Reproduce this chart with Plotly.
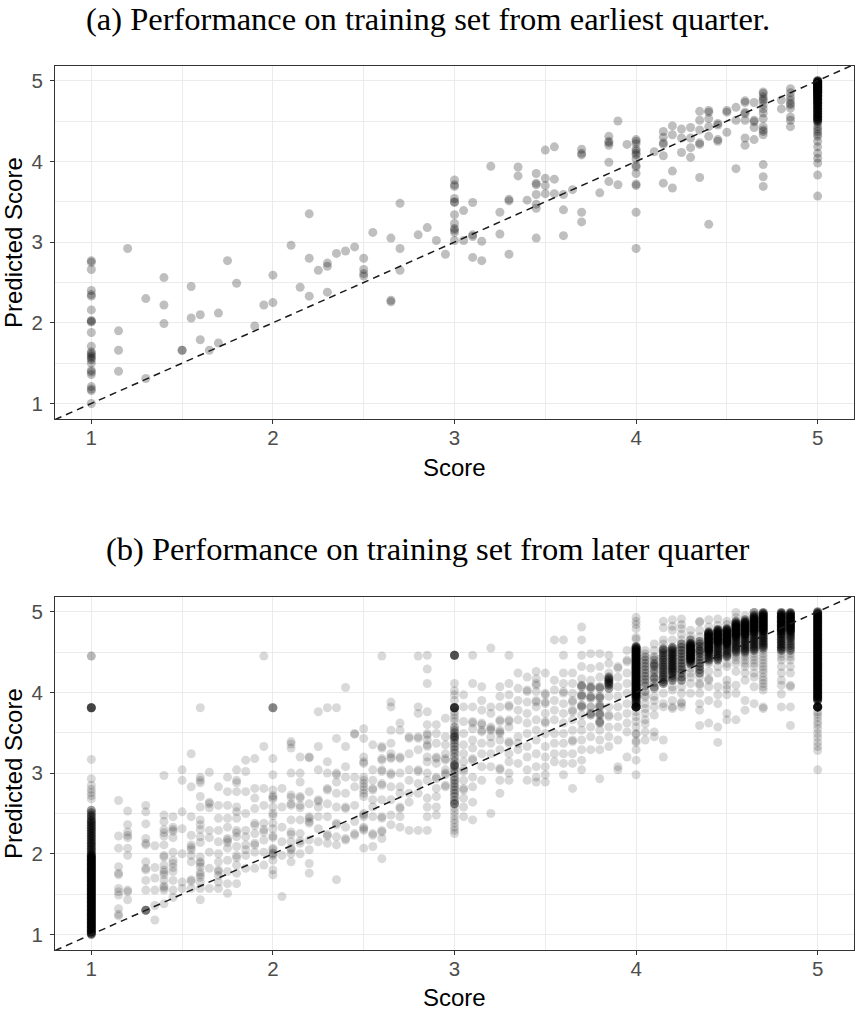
import plotly.graph_objects as go

# ---------------- data ----------------
# Panel (a): earliest quarter -- (score, [predicted scores]) per observed score column
a_cols_low = [
    (1.0, [2.77, 2.75, 2.66, 2.40, 2.35, 2.33, 2.16, 2.03, 2.02, 2.01, 1.88, 1.71, 1.64, 1.62, 1.60,
           1.58, 1.56, 1.54, 1.50, 1.41, 1.39, 1.36, 1.21, 1.18, 1.16, 1.00]),
    (1.15, [1.90, 1.66, 1.40]), (1.2, [2.92]), (1.3, [2.30, 1.31]), (1.4, [2.56, 2.22, 1.99]),
    (1.5, [1.66, 1.66]), (1.55, [2.45, 2.06]), (1.6, [2.10, 1.79]), (1.65, [1.66]),
    (1.7, [2.12, 1.75]), (1.75, [2.77]), (1.8, [2.49]), (1.9, [1.96]), (1.95, [2.22]),
    (2.0, [2.59, 2.25]), (2.1, [2.96]), (2.15, [2.44]), (2.2, [3.35, 2.80, 2.33]), (2.25, [2.65]),
    (2.3, [2.74, 2.70, 2.38]), (2.35, [2.86]), (2.4, [2.89]), (2.45, [2.94]),
    (2.5, [2.80, 2.66, 2.61, 2.58]), (2.55, [3.12]), (2.65, [3.05, 2.28, 2.26]),
    (2.7, [3.48, 2.92, 2.65]), (2.8, [3.09]), (2.85, [3.18]), (2.9, [3.02]), (2.95, [2.85]),
]
a_cols_high = [
    (3.0, [3.77, 3.71, 3.69, 3.54, 3.50, 3.49, 3.34, 3.23, 3.17, 3.15, 3.12, 3.02]),
    (3.05, [3.39, 3.02]), (3.1, [3.49, 3.09, 3.07, 2.81]), (3.15, [3.01, 2.77]), (3.2, [3.94]),
    (3.25, [3.37, 3.10]), (3.3, [3.53, 3.51, 2.85]), (3.35, [3.93, 3.82]), (3.4, [3.52]),
    (3.45, [3.85, 3.73, 3.71, 3.59, 3.47, 3.42, 3.05]), (3.5, [4.14, 3.79, 3.70, 3.60]),
    (3.55, [4.18, 3.78, 3.60]), (3.6, [3.59, 3.40, 3.08]), (3.65, [3.65]),
    (3.7, [4.15, 4.10, 4.08, 3.37, 3.25]), (3.8, [3.61]),
    (3.85, [4.31, 4.25, 4.23, 4.20, 3.99, 3.75]), (3.9, [4.50, 3.71]), (3.95, [4.21]),
    (4.0, [4.27, 4.25, 4.22, 4.15, 4.13, 4.10, 4.08, 4.03, 3.95, 3.93, 3.85, 3.72, 3.70, 3.37, 2.92]),
    (4.1, [4.12]), (4.15, [4.37, 4.30, 4.23, 4.21, 4.07, 3.73]), (4.2, [4.44, 4.33, 3.88, 3.67]),
    (4.25, [4.40, 4.29, 4.11]), (4.3, [4.42, 4.29, 4.17, 4.05]),
    (4.35, [4.62, 4.51, 4.39, 4.23, 4.21, 3.80]), (4.4, [4.63, 4.61, 4.53, 4.43, 4.31, 3.22]),
    (4.45, [4.47, 4.45, 4.27, 4.25]), (4.5, [4.63, 4.61, 4.36]), (4.55, [4.67, 4.51, 3.91]),
    (4.6, [4.75, 4.73, 4.61, 4.59, 4.51, 4.29, 4.20]), (4.65, [4.73, 4.51, 4.49, 4.42, 4.27]),
    (4.7, [4.86, 4.84, 4.80, 4.77, 4.75, 4.70, 4.65, 4.60, 4.53, 4.43, 4.39, 4.37, 4.33, 3.96, 3.81, 3.69]),
    (4.8, [4.76, 4.65]),
    (4.85, [4.90, 4.85, 4.80, 4.76, 4.72, 4.70, 4.66, 4.55, 4.51, 4.43]),
    (5.0, [5.00, 4.99, 4.98, 4.97, 4.96, 4.95, 4.94, 4.93, 4.92, 4.91, 4.90, 4.89, 4.88, 4.87, 4.86,
           4.85, 4.84, 4.82, 4.81, 4.80, 4.78, 4.77, 4.75, 4.73, 4.72, 4.70, 4.68, 4.66, 4.64, 4.62,
           4.60, 4.58, 4.56, 4.54, 4.52, 4.50, 4.47, 4.43, 4.40, 4.37, 4.34, 4.31, 4.25, 4.18, 4.10,
           4.04, 3.98, 3.83, 3.57]),
]
# heavily over-plotted bands in (a): score, lowest / highest prediction, observations per listed value
a_band_x = [5.0]
a_band_lo = [4.50]
a_band_hi = [5.00]
a_band_mult = [3]

# Panel (b): later quarter
b_cols_low = [
    (1.0, [3.17, 2.93, 2.85, 2.80, 2.76, 2.72, 2.68, 2.54, 2.51, 2.48, 2.46, 2.43, 2.41, 2.39, 2.37,
           2.35, 2.33, 2.31, 2.29, 2.27, 2.25, 2.23, 2.21, 2.19, 2.17, 2.15, 2.13, 2.11, 2.09, 2.07,
           2.05, 2.03, 2.01, 1.99, 1.98, 1.97, 1.96, 1.95, 1.94, 1.93, 1.92, 1.91, 1.90, 1.89, 1.88,
           1.87, 1.86, 1.85, 1.84, 1.83, 1.82, 1.81, 1.80, 1.79, 1.78, 1.77, 1.76, 1.75, 1.74, 1.73,
           1.72, 1.71, 1.70, 1.69, 1.68, 1.67, 1.66, 1.65, 1.64, 1.63, 1.62, 1.61, 1.60, 1.59, 1.58,
           1.57, 1.56, 1.55, 1.54, 1.53, 1.52, 1.51, 1.50, 1.49, 1.48, 1.47, 1.46, 1.45, 1.44, 1.43,
           1.42, 1.41, 1.40, 1.39, 1.38, 1.37, 1.36, 1.35, 1.34, 1.33, 1.32, 1.31, 1.30, 1.29, 1.28,
           1.27, 1.26, 1.25, 1.24, 1.23, 1.22, 1.21, 1.20, 1.19, 1.18, 1.17, 1.16, 1.15, 1.14, 1.13,
           1.12, 1.11, 1.10, 1.09, 1.08, 1.07, 1.06, 1.05, 1.04, 1.03, 1.02, 1.01, 1.00]),
    (1.15, [2.66, 2.22, 2.07, 1.84, 1.76, 1.74, 1.57, 1.53, 1.49, 1.32, 1.25, 1.23]),
    (1.2, [2.53, 2.36, 2.27, 2.23, 2.20, 2.07, 1.98, 1.55, 1.53, 1.43]),
    (1.3, [2.60, 2.52, 2.37, 2.19, 2.13, 2.11, 1.90, 1.82, 1.80, 1.67, 1.55]),
    (1.35, [2.10, 1.83, 1.70, 1.55, 1.36, 1.18]),
    (1.4, [2.97, 2.48, 2.40, 2.30, 2.26, 2.22, 2.11, 1.98, 1.96, 1.86, 1.80, 1.77, 1.74, 1.67, 1.60, 1.58, 1.55, 1.38]),
    (1.45, [2.46, 2.33, 2.30, 2.28, 2.20, 2.02, 1.92, 1.88, 1.83, 1.78, 1.67, 1.55, 1.46]),
    (1.5, [3.04, 2.91, 2.52, 2.31, 2.00, 1.65, 1.57]),
    (1.55, [3.24, 2.83, 2.46, 2.23, 2.11, 2.08, 2.05, 1.98, 1.90, 1.68, 1.66, 1.57]),
    (1.6, [3.81, 2.95, 2.91, 2.88, 2.71, 2.58, 2.42, 2.36, 2.30, 2.21, 2.14, 1.96, 1.90, 1.88, 1.84, 1.77, 1.74, 1.71, 1.65, 1.57, 1.43]),
    (1.65, [3.01, 2.64, 2.62, 2.57, 2.29, 2.20, 2.02, 1.82, 1.57]),
    (1.7, [2.83, 2.60, 2.44, 2.29, 2.15, 2.00, 1.90, 1.80, 1.78, 1.73, 1.65, 1.57]),
    (1.75, [2.95, 2.77, 2.60, 2.44, 2.33, 2.19, 2.17, 2.14, 2.07, 1.92, 1.78, 1.63, 1.51]),
    (1.8, [3.04, 2.91, 2.88, 2.77, 2.58, 2.52, 2.44, 2.29, 2.26, 2.21, 2.09, 1.98, 1.95, 1.86, 1.76, 1.63]),
    (1.85, [3.16, 3.02, 2.77, 2.50, 2.29, 2.21, 2.11, 2.05, 1.98, 1.82]),
    (1.9, [3.18, 2.81, 2.69, 2.56, 2.38, 2.35, 2.25, 2.13, 2.11, 2.02, 1.82]),
    (1.95, [4.45, 3.33, 2.81, 2.60, 2.38, 2.30, 2.27, 2.17, 2.02, 1.86]),
]
b_cols_mid = [
    (2.0, [3.18, 2.98, 2.79, 2.72, 2.70, 2.68, 2.58, 2.50, 2.47, 2.38, 2.31, 2.22, 2.20, 2.07, 2.05, 2.01, 2.00, 1.98, 1.92, 1.80, 1.74]),
    (2.05, [2.81, 2.58, 2.33, 2.15, 1.98, 1.47]),
    (2.1, [3.39, 3.36, 3.31, 3.00, 2.73, 2.70, 2.62, 2.60, 2.42, 2.27, 2.24, 2.15, 2.07, 2.05, 2.00, 1.90]),
    (2.15, [3.20, 3.00, 2.89, 2.71, 2.69, 2.60, 2.57, 2.42, 2.25, 2.16, 2.13, 2.00]),
    (2.2, [3.20, 3.19, 2.77, 2.62, 2.46, 2.44, 2.40, 2.38, 2.17, 2.05, 1.88, 1.76]),
    (2.25, [3.76, 3.33, 3.04, 2.67, 2.65, 2.58, 2.46, 2.31, 2.15]),
    (2.3, [3.81, 3.14, 3.00, 2.81, 2.79, 2.62, 2.46, 2.24, 2.22, 2.13]),
    (2.35, [3.81, 3.43, 3.00, 2.98, 2.89, 2.75, 2.58, 2.38, 2.36, 2.21, 2.11, 1.68]),
    (2.4, [4.06, 3.33, 3.08, 2.95, 2.75, 2.58, 2.56, 2.33, 2.19, 2.17]),
    (2.45, [3.49, 3.48, 2.95, 2.83, 2.60, 2.40, 2.25, 2.23]),
    (2.5, [3.55, 3.43, 3.20, 3.14, 3.12, 2.95, 2.91, 2.87, 2.83, 2.79, 2.75, 2.71, 2.50, 2.48, 2.46, 2.33, 2.31, 2.29, 2.07]),
    (2.55, [3.35, 3.04, 2.91, 2.81, 2.79, 2.67, 2.58, 2.46, 2.25, 2.23, 2.09]),
    (2.6, [4.45, 3.33, 3.31, 3.18, 3.16, 3.04, 3.02, 2.87, 2.85, 2.67, 2.46, 2.44, 2.29, 2.27, 2.19, 1.94]),
    (2.65, [3.88, 3.82, 3.53, 3.37, 3.24, 3.20, 3.18, 3.00, 2.98, 2.83, 2.67, 2.48, 2.36]),
    (2.7, [3.62, 3.53, 3.20, 3.18, 3.00, 2.83, 2.75, 2.58, 2.56, 2.46, 2.33]),
    (2.75, [3.45, 3.43, 3.24, 3.04, 2.91, 2.75, 2.64, 2.29]),
    (2.8, [4.45, 3.82, 3.74, 3.45, 3.43, 3.29, 3.04, 3.02, 2.87, 2.75, 2.29]),
    (2.85, [4.46, 4.29, 4.11, 3.76, 3.60, 3.49, 3.47, 3.41, 3.35, 3.33, 3.20, 3.14, 3.00, 2.91, 2.69, 2.58, 2.46, 2.29]),
    (2.9, [3.60, 3.49, 3.37, 3.20, 3.18, 3.12, 2.95, 2.93, 2.81, 2.71, 2.58, 2.48]),
    (2.95, [3.68, 3.45, 3.35, 3.24, 3.18, 3.16, 3.04, 3.00, 2.98, 2.85, 2.83]),
]
b_cols_high = [
    (3.0, [4.11, 4.02, 3.97, 3.90, 3.76, 3.72, 3.68, 3.64, 3.57, 3.53, 3.50, 3.47, 3.45, 3.44, 3.41,
           3.37, 3.33, 3.29, 3.25, 3.20, 3.15, 3.10, 3.10, 3.08, 3.04, 3.00, 2.95, 2.91, 2.87, 2.83,
           2.79, 2.75, 2.71, 2.66, 2.62, 2.62, 2.57, 2.52, 2.47, 2.42, 2.38, 2.33, 2.29, 2.25]),
    (3.05, [3.97, 3.82, 3.64, 3.49, 3.35, 3.24, 3.14, 3.05, 3.02, 2.91, 2.81, 2.79, 2.69, 2.58, 2.46]),
    (3.1, [4.46, 4.11, 3.82, 3.64, 3.62, 3.55, 3.41, 3.31, 3.18, 3.16, 2.95, 2.83, 2.64, 2.42]),
    (3.15, [4.07, 3.90, 3.78, 3.62, 3.60, 3.53, 3.51, 3.37, 3.24, 3.08, 2.91]),
    (3.2, [4.55, 3.82, 3.74, 3.57, 3.55, 3.53, 3.45, 3.37, 3.24, 3.08, 2.50]),
    (3.25, [4.07, 3.95, 3.82, 3.66, 3.64, 3.53, 3.51, 3.49, 3.41, 3.29, 3.06, 3.04, 2.91, 2.75]),
    (3.3, [4.46, 4.11, 3.97, 3.84, 3.82, 3.66, 3.64, 3.57, 3.39, 3.37, 3.24, 3.14, 3.00, 2.91]),
    (3.35, [4.24, 4.05, 3.90, 3.78, 3.66, 3.45, 3.37, 3.29, 3.12]),
    (3.4, [4.19, 4.03, 4.01, 3.88, 3.74, 3.62, 3.49, 3.33, 3.20, 3.04, 2.91]),
    (3.45, [4.26, 4.17, 4.11, 4.09, 4.01, 3.90, 3.88, 3.82, 3.66, 3.53, 3.41, 3.24, 3.08, 2.95, 2.89]),
    (3.5, [4.24, 3.99, 3.97, 3.88, 3.86, 3.74, 3.64, 3.62, 3.49, 3.33, 3.20, 3.08, 2.98, 2.89]),
    (3.55, [4.65, 4.15, 4.03, 3.90, 3.78, 3.66, 3.49, 3.37, 3.24, 3.14]),
    (3.6, [4.65, 4.46, 4.24, 4.11, 4.01, 3.99, 3.86, 3.74, 3.62, 3.49, 3.37, 3.24, 3.12, 2.98]),
    (3.65, [4.24, 4.11, 3.99, 3.90, 3.88, 3.78, 3.76, 3.66, 3.53, 3.41, 3.39, 3.24, 3.12, 2.81]),
    (3.7, [4.81, 4.65, 4.46, 4.32, 4.17, 4.09, 4.07, 3.97, 3.95, 3.84, 3.82, 3.72, 3.62, 3.53, 3.41, 3.29, 3.16, 3.04]),
    (3.75, [4.48, 4.30, 4.15, 4.07, 4.05, 3.95, 3.93, 3.82, 3.74, 3.72, 3.57, 3.45, 3.29]),
    (3.8, [4.48, 4.32, 4.19, 4.07, 4.05, 3.95, 3.93, 3.84, 3.82, 3.74, 3.72, 3.64, 3.62, 3.53, 3.41, 3.29, 2.93]),
    (3.85, [4.46, 4.36, 4.24, 4.19, 4.17, 4.15, 4.13, 4.11, 4.09, 4.05, 3.95, 3.82, 3.72, 3.70, 3.57, 3.45, 3.33]),
    (3.9, [4.32, 4.30, 4.19, 4.07, 3.95, 3.82, 3.70, 3.57, 3.41, 3.08, 3.04]),
    (3.95, [4.52, 4.40, 4.38, 4.24, 4.11, 3.99, 3.86, 3.74, 3.62, 3.51, 3.20]),
]
b_cols_top = [
    (4.0, [4.93, 4.88, 4.84, 4.79, 4.68, 4.66, 4.57, 4.56, 4.55, 4.54, 4.53, 4.52, 4.51, 4.50, 4.49,
           4.48, 4.47, 4.46, 4.45, 4.44, 4.43, 4.42, 4.41, 4.40, 4.39, 4.38, 4.37, 4.36, 4.35, 4.34,
           4.33, 4.32, 4.31, 4.30, 4.29, 4.28, 4.27, 4.26, 4.25, 4.24, 4.23, 4.22, 4.21, 4.20, 4.19,
           4.18, 4.17, 4.16, 4.15, 4.14, 4.13, 4.12, 4.11, 4.10, 4.09, 4.08, 4.07, 4.06, 4.05, 4.04,
           4.03, 4.02, 4.01, 4.00, 3.99, 3.98, 3.97, 3.96, 3.95, 3.94, 3.93, 3.91, 3.89, 3.87, 3.85,
           3.76, 3.70, 3.64, 3.57, 3.49, 3.48, 3.40, 3.38, 3.29, 3.16, 2.98]),
    (4.05, [4.52, 4.48, 4.44, 4.40, 4.36, 4.32, 4.28, 4.24, 4.20, 4.16, 4.12, 4.08, 4.01, 3.96, 3.94, 3.86, 3.80, 3.74, 3.66, 3.61, 3.51, 3.41]),
    (4.1, [4.60, 4.52, 4.44, 4.40, 4.36, 4.34, 4.32, 4.28, 4.24, 4.19, 4.17, 4.12, 4.07, 4.05, 3.95, 3.90, 3.82, 3.72, 3.51, 3.45]),
    (4.15, [4.88, 4.80, 4.65, 4.60, 4.54, 4.52, 4.49, 4.46, 4.43, 4.40, 4.37, 4.34, 4.31, 4.28, 4.25, 4.22, 4.19, 4.16, 4.13, 4.11, 3.99, 3.86, 3.82, 3.41, 3.20]),
    (4.2, [4.90, 4.82, 4.77, 4.65, 4.56, 4.54, 4.52, 4.50, 4.48, 4.46, 4.44, 4.42, 4.40, 4.38, 4.36, 4.34, 4.32, 4.30, 4.28, 4.26, 4.24, 4.21, 4.18, 4.15, 4.07, 4.03, 3.90, 3.82, 3.80]),
    (4.25, [4.91, 4.84, 4.79, 4.72, 4.65, 4.60, 4.56, 4.52, 4.48, 4.44, 4.40, 4.36, 4.32, 4.28, 4.24, 4.19, 4.15, 4.07, 3.99, 3.88, 3.86, 3.82]),
    (4.3, [4.77, 4.70, 4.65, 4.61, 4.60, 4.59, 4.58, 4.57, 4.56, 4.55, 4.54, 4.53, 4.52, 4.51, 4.50, 4.49, 4.48, 4.47, 4.46, 4.45, 4.44, 4.43, 4.42, 4.41, 4.40, 4.39, 4.37, 4.35, 4.30, 4.24, 4.19, 4.11, 3.99]),
    (4.35, [4.88, 4.87, 4.77, 4.69, 4.63, 4.60, 4.57, 4.53, 4.51, 4.48, 4.44, 4.40, 4.36, 4.32, 4.28, 4.24, 4.19, 4.11, 4.09, 3.99, 3.86, 3.78, 3.59]),
    (4.4, [4.90, 4.81, 4.75, 4.74, 4.73, 4.72, 4.71, 4.70, 4.69, 4.68, 4.67, 4.66, 4.65, 4.64, 4.63, 4.62, 4.61, 4.60, 4.59, 4.58, 4.57, 4.56, 4.55, 4.54, 4.53, 4.52, 4.51, 4.50, 4.48, 4.46, 4.44, 4.42, 4.40, 4.38, 4.36, 4.26, 4.17, 4.15, 4.07, 3.90, 3.62]),
    (4.45, [4.91, 4.83, 4.78, 4.77, 4.76, 4.75, 4.74, 4.73, 4.72, 4.71, 4.70, 4.69, 4.68, 4.67, 4.66, 4.65, 4.64, 4.63, 4.62, 4.61, 4.60, 4.58, 4.56, 4.54, 4.52, 4.50, 4.48, 4.46, 4.44, 4.42, 4.40, 4.32, 4.24, 4.07, 3.97, 3.86, 3.57, 3.38]),
    (4.5, [4.88, 4.84, 4.79, 4.78, 4.77, 4.76, 4.75, 4.74, 4.73, 4.72, 4.71, 4.70, 4.69, 4.68, 4.67, 4.66, 4.65, 4.64, 4.63, 4.62, 4.61, 4.60, 4.59, 4.57, 4.55, 4.53, 4.51, 4.48, 4.46, 4.44, 4.36, 4.32, 4.15, 4.09, 4.04, 3.97, 3.74, 3.66]),
    (4.55, [4.99, 4.93, 4.88, 4.86, 4.85, 4.84, 4.83, 4.82, 4.81, 4.80, 4.79, 4.78, 4.77, 4.76, 4.75, 4.74, 4.73, 4.72, 4.71, 4.70, 4.69, 4.68, 4.66, 4.64, 4.62, 4.60, 4.58, 4.56, 4.54, 4.52, 4.50, 4.47, 4.44, 4.40, 4.36, 4.26, 4.09, 3.99, 3.66]),
    (4.6, [4.95, 4.90, 4.88, 4.87, 4.86, 4.85, 4.84, 4.83, 4.82, 4.81, 4.80, 4.79, 4.78, 4.77, 4.76, 4.75, 4.74, 4.73, 4.72, 4.71, 4.70, 4.68, 4.66, 4.64, 4.62, 4.60, 4.58, 4.56, 4.54, 4.52, 4.50, 4.47, 4.44, 4.40, 4.36, 4.32, 4.24, 4.15, 3.90, 3.78]),
    (4.65, [4.99, 4.96, 4.94, 4.93, 4.92, 4.91, 4.90, 4.89, 4.88, 4.87, 4.86, 4.85, 4.84, 4.83, 4.82, 4.81, 4.80, 4.79, 4.78, 4.77, 4.76, 4.75, 4.74, 4.72, 4.70, 4.68, 4.66, 4.64, 4.62, 4.60, 4.58, 4.56, 4.54, 4.52, 4.48, 4.44, 4.40, 4.36, 4.32, 4.24, 4.19, 4.07, 3.86]),
    (4.7, [4.99, 4.98, 4.97, 4.96, 4.95, 4.94, 4.93, 4.92, 4.91, 4.90, 4.89, 4.88, 4.87, 4.86, 4.85, 4.84, 4.83, 4.82, 4.81, 4.80, 4.79, 4.78, 4.77, 4.76, 4.75, 4.73, 4.71, 4.69, 4.67, 4.65, 4.63, 4.61, 4.59, 4.57, 4.55, 4.52, 4.48, 4.44, 4.40, 4.36, 4.32, 4.28, 4.24, 4.19, 4.15, 4.11, 4.07, 4.03, 3.82, 3.80]),
    (4.8, [4.99, 4.98, 4.97, 4.96, 4.95, 4.94, 4.93, 4.92, 4.91, 4.90, 4.89, 4.88, 4.87, 4.86, 4.85, 4.84, 4.83, 4.82, 4.81, 4.80, 4.79, 4.78, 4.77, 4.76, 4.75, 4.73, 4.72, 4.70, 4.68, 4.66, 4.64, 4.62, 4.60, 4.58, 4.56, 4.54, 4.52, 4.48, 4.44, 4.40, 4.32, 4.24, 4.15, 4.09, 3.98, 3.82]),
    (4.85, [4.99, 4.98, 4.97, 4.96, 4.95, 4.94, 4.93, 4.92, 4.91, 4.90, 4.89, 4.88, 4.87, 4.86, 4.85, 4.84, 4.83, 4.82, 4.81, 4.80, 4.79, 4.78, 4.77, 4.76, 4.75, 4.73, 4.71, 4.69, 4.67, 4.64, 4.61, 4.58, 4.55, 4.52, 4.48, 4.44, 4.40, 4.32, 4.24, 4.09, 4.07, 3.82, 3.59]),
    (5.0, [5.00, 4.99, 4.98, 4.97, 4.96, 4.95, 4.94, 4.93, 4.92, 4.91, 4.90, 4.89, 4.88, 4.87, 4.86,
           4.85, 4.84, 4.83, 4.82, 4.81, 4.80, 4.79, 4.78, 4.77, 4.76, 4.75, 4.74, 4.73, 4.72, 4.71,
           4.70, 4.69, 4.68, 4.67, 4.66, 4.65, 4.64, 4.63, 4.62, 4.61, 4.60, 4.59, 4.58, 4.57, 4.56,
           4.55, 4.54, 4.53, 4.52, 4.51, 4.50, 4.49, 4.48, 4.47, 4.46, 4.45, 4.44, 4.43, 4.42, 4.41,
           4.40, 4.39, 4.38, 4.37, 4.36, 4.35, 4.34, 4.33, 4.32, 4.31, 4.30, 4.29, 4.28, 4.27, 4.26,
           4.25, 4.24, 4.23, 4.22, 4.21, 4.20, 4.19, 4.18, 4.17, 4.16, 4.15, 4.14, 4.13, 4.12, 4.11,
           4.10, 4.09, 4.08, 4.07, 4.06, 4.05, 4.04, 4.03, 4.02, 4.01, 4.00, 3.99, 3.98, 3.97, 3.96,
           3.95, 3.94, 3.93, 3.92, 3.91, 3.90, 3.76, 3.73, 3.69, 3.64, 3.60, 3.55, 3.49, 3.44, 3.38,
           3.33, 3.28, 3.04]),
]
# repeated identical predictions in panel (b): score, prediction, count
b_stack_x = [1.0, 1.0, 2.0, 3.0, 3.0, 4.0, 5.0, 1.3]
b_stack_y = [3.81, 4.45, 3.81, 3.81, 4.46, 3.82, 3.82, 1.30]
b_stack_n = [8, 2, 4, 10, 7, 14, 16, 5]
# heavily over-plotted bands in (b): score, lowest / highest prediction, observations per listed value
b_band_x = [1.0, 3.0, 3.7, 3.75, 3.8, 3.85, 4.0, 4.05, 4.1, 4.15, 4.2, 4.25,
            4.3, 4.35, 4.4, 4.45, 4.5, 4.55, 4.6, 4.65, 4.7, 4.8, 4.85, 5.0]
b_band_lo = [1.00, 2.60, 3.80, 3.70, 3.60, 4.05, 3.85, 4.00, 4.05, 4.10, 4.15, 4.15,
             4.35, 4.20, 4.40, 4.40, 4.44, 4.50, 4.50, 4.52, 4.55, 4.52, 4.52, 3.85]
b_band_hi = [2.55, 3.60, 4.10, 4.10, 4.10, 4.20, 4.57, 4.45, 4.45, 4.55, 4.56, 4.60,
             4.65, 4.65, 4.75, 4.80, 4.80, 4.90, 4.90, 4.99, 5.00, 5.00, 5.00, 5.00]
b_band_mult = [3, 2, 2, 2, 2, 3, 3, 2, 2, 3, 3, 3,
               3, 3, 3, 3, 3, 3, 3, 3, 3, 3, 3, 3]

titles = ["(a) Performance on training set from earliest quarter.",
          "(b) Performance on training set from later quarter"]
x_label = "Score"
y_label = "Predicted Score"
tick_vals = [1, 2, 3, 4, 5]


def expand(groups, band_x=(), band_lo=(), band_hi=(), band_mult=(), sx=(), sy=(), sn=()):
    xs, ys = [], []
    cols = [c for g in groups for c in g]
    for x, yl in cols:
        xs += [x] * len(yl)
        ys += yl
    for bxv, lo, hi, m in zip(band_x, band_lo, band_hi, band_mult):
        extra = [y for cx, yl in cols if cx == bxv for y in yl if lo <= y <= hi]
        xs += [bxv] * (len(extra) * (m - 1))
        ys += extra * (m - 1)
    for x, y, n in zip(sx, sy, sn):
        xs += [x] * n
        ys += [y] * n
    return xs, ys


ax, ay = expand([a_cols_low, a_cols_high], a_band_x, a_band_lo, a_band_hi, a_band_mult)
bx, by = expand([b_cols_low, b_cols_mid, b_cols_high, b_cols_top],
                b_band_x, b_band_lo, b_band_hi, b_band_mult, b_stack_x, b_stack_y, b_stack_n)

# ---------------- layout ----------------
W, H = 855, 1011
PX_L, PX_R = 55, 854
PANELS = [(66, 419), (597, 950)]
XR = [0.8, 5.2]
YR = [0.808, 5.182]


def py(p):
    return 1 - p / H


fig = go.Figure()
for i, (xs, ys, alpha) in enumerate([(ax, ay, 0.25), (bx, by, 0.15)]):
    sfx = "" if i == 0 else "2"
    fig.add_trace(go.Scatter(
        x=xs, y=ys, mode="markers", xaxis="x" + sfx, yaxis="y" + sfx,
        marker=dict(size=9, color=f"rgba(0,0,0,{alpha})", line=dict(width=0)),
        showlegend=False, hoverinfo="skip"))
    fig.add_trace(go.Scatter(
        x=XR, y=XR, mode="lines", xaxis="x" + sfx, yaxis="y" + sfx,
        line=dict(color="#1a1a1a", width=1.5, dash="7px,5px"),
        showlegend=False, hoverinfo="skip"))

axis_common = dict(
    showgrid=True, gridcolor="#ebebeb", gridwidth=1.2, zeroline=False,
    showline=True, mirror=True, linecolor="#333333", linewidth=1.1,
    ticks="outside", ticklen=4, tickwidth=1.1, tickcolor="#333333",
    tickvals=tick_vals, tickfont=dict(family="Liberation Sans, Arial", size=20.5, color="#4d4d4d"),
    minor=dict(dtick=0.5, tick0=0.5, showgrid=True, gridcolor="#ebebeb", gridwidth=0.6, ticks=""),
    fixedrange=True,
)
layout = dict(width=W, height=H, margin=dict(l=0, r=0, t=0, b=0),
              paper_bgcolor="white", plot_bgcolor="white", showlegend=False)
for i, (top, bot) in enumerate(PANELS):
    sfx = "" if i == 0 else "2"
    layout["xaxis" + sfx] = dict(axis_common, range=XR, domain=[PX_L / W, PX_R / W],
                                 anchor="y" + sfx, ticklabelstandoff=-4)
    layout["yaxis" + sfx] = dict(axis_common, range=YR, domain=[py(bot), py(top)],
                                 anchor="x" + sfx, ticklabelstandoff=3)
fig.update_layout(**layout)

ann = []
title_y = [19, 549]
xlab_y = [467, 997]
for i, (top, bot) in enumerate(PANELS):
    ann.append(dict(text=titles[i], x=428 / W, y=py(title_y[i]), xref="paper", yref="paper",
                    xanchor="center", yanchor="middle", showarrow=False,
                    font=dict(family="Liberation Serif, Times New Roman, serif", size=32.5, color="black")))
    ann.append(dict(text=x_label, x=(PX_L + PX_R) / 2 / W, y=py(xlab_y[i]), xref="paper", yref="paper",
                    xanchor="center", yanchor="middle", showarrow=False,
                    font=dict(family="Liberation Sans, Arial", size=24, color="black")))
    ann.append(dict(text=y_label, x=13.5 / W, y=py((top + bot) / 2), xref="paper", yref="paper",
                    xanchor="center", yanchor="middle", showarrow=False, textangle=-90,
                    font=dict(family="Liberation Sans, Arial", size=24, color="black")))
fig.update_layout(annotations=ann)

fig.write_html("out.html")
